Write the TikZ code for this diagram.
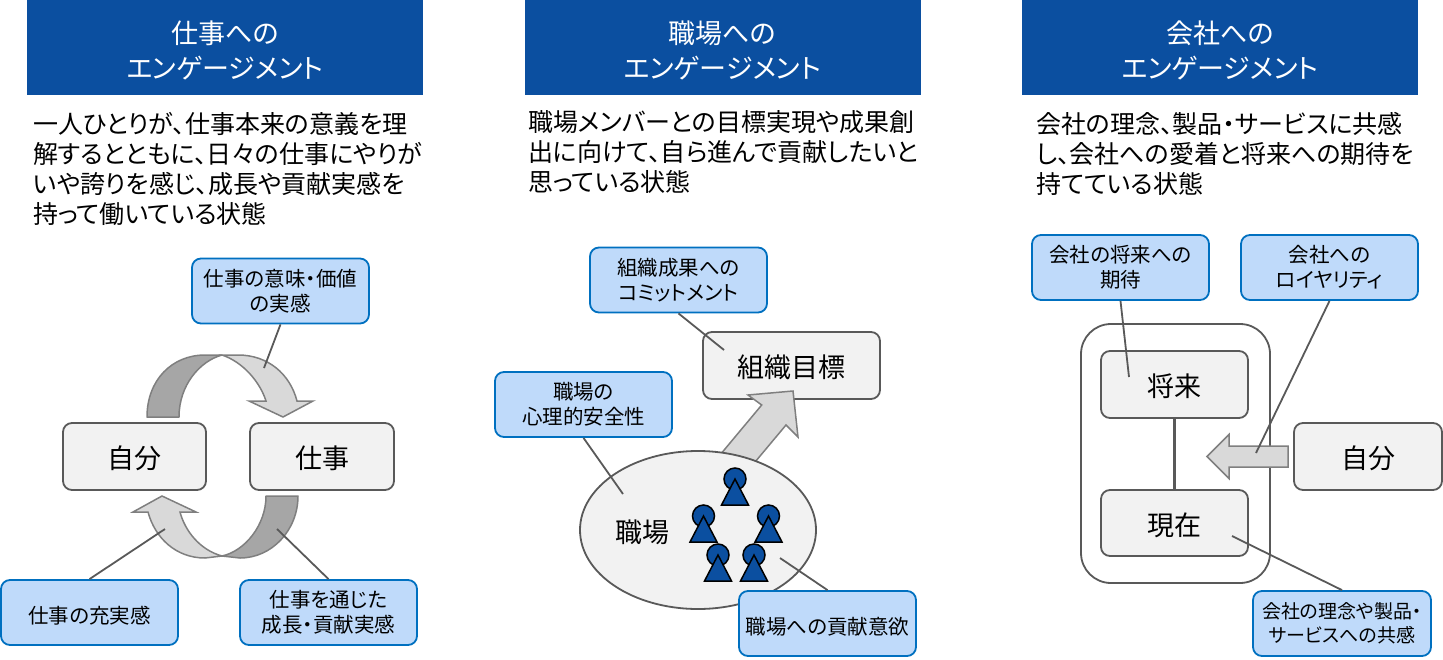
\documentclass[tikz,border=0pt]{standalone}
\usepackage{fontspec}
\usetikzlibrary{shapes.geometric}
\setmainfont{Noto Sans CJK JP}[RawFeature=+palt]
\definecolor{headblue}{HTML}{0B4FA0}
\definecolor{callfill}{HTML}{BFDAFA}
\definecolor{callline}{HTML}{0070C0}
\definecolor{boxfill}{HTML}{F2F2F2}
\definecolor{boxline}{HTML}{595959}
\definecolor{arrowdark}{HTML}{A6A6A6}
\definecolor{arrowlight}{HTML}{D9D9D9}
\definecolor{arrowline}{HTML}{7F7F7F}
\newcommand{\fs}[2]{\fontsize{#1}{#2}\selectfont}
\tikzset{
  head/.style={fill=headblue,text=white,minimum width=396pt,minimum height=95pt,inner sep=0pt,align=center,font=\fs{27}{35},text height=62pt,text depth=0pt},
  body/.style={anchor=west,inner sep=0pt,align=left,font=\fs{25}{30}},
  item/.style={draw=boxline,fill=boxfill,line width=1.8pt,rounded corners=9pt,inner sep=0pt,font=\fs{27}{30},execute at begin node={\rule{0pt}{27pt}}},
  callout/.style={draw=callline,fill=callfill,line width=1.8pt,rounded corners=9pt,minimum width=177pt,minimum height=65pt,inner sep=0pt,align=center,font=\fs{20.5}{25},execute at begin node={\rule{0pt}{24pt}}},
  lead/.style={draw=boxline,line width=1.8pt},
  darkribbon/.style={draw=arrowline,fill=arrowdark,line width=1.5pt,line join=round},
  lightribbon/.style={draw=arrowline,fill=arrowlight,line width=1.5pt,line join=miter},
}
\begin{document}
\begin{tikzpicture}[x=1pt,y=-1pt]
\useasboundingbox (0,0) rectangle (1443,659);
\node[head] (headwork) at (225,47.5) {仕事への\\エンゲージメント};
\node[head] (headplace) at (722.5,47.5) {職場への\\エンゲージメント};
\node[head] (headfirm) at (1220,47.5) {会社への\\エンゲージメント};
\node[body] (bodywork) at (33,168.5) {一人ひとりが、仕事本来の意義を理\\解するとともに、日々の仕事にやりが\\いや誇りを感じ、成長や貢献実感を\\持って働いている状態};
\node[body] (bodyplace) at (528,152) {職場メンバーとの目標実現や成果創\\出に向けて、自ら進んで貢献したいと\\思っている状態};
\node[body] (bodyfirm) at (1036,154) {会社の理念、製品・サービスに共感\\し、会社への愛着と将来への期待を\\持てている状態};

\node[item,minimum width=143pt,minimum height=67pt] (selfa) at (134.5,456.5) {自分};
\node[item,minimum width=144pt,minimum height=67pt] (work) at (322,456.5) {仕事};
\draw[darkribbon] (147,417) .. controls (147,380) and (172,355) .. (205,355) -- (222,355) .. controls (200,361) and (179,385) .. (179,417) -- cycle;
\draw[lightribbon] (222,355) -- (238,355) .. controls (268,355) and (290,374) .. (297,401) -- (313,401) -- (283,417) -- (249,401) -- (266,401) .. controls (260,382) and (243,362) .. (222,355) -- cycle;
\draw[darkribbon] (298,496) .. controls (298,530) and (272,558) .. (240,558) -- (222,556) .. controls (245,551) and (266,525) .. (266,496) -- cycle;
\draw[lightribbon] (222,556) -- (205,558) .. controls (176,558) and (155,538) .. (148,512) -- (133,512) -- (162,496) -- (196,512) -- (180,512) .. controls (185,531) and (200,550) .. (222,556) -- cycle;

\coordinate (endmean) at (264,368);
\coordinate (endfull) at (165,529);
\coordinate (endgrow) at (277,529);
\node[callout] (mean) at (280.5,291) {仕事の意味・価値\\の実感};
\node[callout] (full) at (89.5,612.5) {仕事の充実感};
\node[callout] (grow) at (328.5,612.5) {仕事を通じた\\成長・貢献実感};
\draw[lead] (mean.south) -- (endmean);
\draw[lead] (full.north) -- (endfull);
\draw[lead] (grow.north) -- (endgrow);

\node[item,minimum width=177pt,minimum height=67pt] (goal) at (791.5,365.5) {組織目標};
\draw[draw=arrowline,fill=arrowlight,line width=1.5pt] (712.7,463.7) -- (761.7,405) -- (748,395) -- (793,391) -- (798,437) -- (786,425) -- (746.7,472) -- cycle;
\node[draw=boxline,fill=boxfill,line width=1.8pt,ellipse,minimum width=236pt,minimum height=158pt,inner sep=0pt] (place) at (698,530) {};
\node[font=\fs{27}{30},inner sep=0pt] (placetext) at (642,532) {職場};
\foreach \px/\py in {735/479,703.5/516,768.5/516,718/555,754/555}{
  \draw[fill=headblue,line width=1.5pt] (\px,\py) circle (11pt);
  \draw[fill=headblue,line width=1.5pt,line join=miter] (\px,\py) -- (\px+13.5,\py+26) -- (\px-13.5,\py+26) -- cycle;
}
\coordinate (endcommit) at (724,350);
\coordinate (endsafe) at (623,494);
\coordinate (endwill) at (780,558);
\node[callout] (commit) at (678.5,280) {組織成果への\\コミットメント};
\node[callout] (safe) at (583.5,404.5) {職場の\\心理的安全性};
\node[callout] (will) at (827.5,623.5) {職場への貢献意欲};
\draw[lead] (commit.south) -- (endcommit);
\draw[lead] (safe.south) -- (endsafe);
\draw[lead] (will.north) -- (endwill);

\node[draw=boxline,fill=white,line width=1.8pt,rounded corners=30pt,minimum width=189pt,minimum height=259pt,inner sep=0pt] (frame) at (1175.5,453.5) {};
\node[item,minimum width=147pt,minimum height=67pt] (future) at (1174.5,384.5) {将来};
\node[item,minimum width=147pt,minimum height=66pt] (now) at (1174.5,523) {現在};
\node[item,minimum width=148pt,minimum height=67pt] (selfb) at (1368,456.5) {自分};
\draw[lead,line width=2.2pt] (future.south) -- (now.north);
\draw[draw=arrowline,fill=arrowlight,line width=1.5pt] (1288,446) -- (1229,446) -- (1229,434.5) -- (1207,456.5) -- (1229,478.5) -- (1229,467) -- (1288,467) -- cycle;
\coordinate (endhope) at (1129,377);
\coordinate (endloyal) at (1256,453);
\coordinate (endshare) at (1232,536);
\node[callout] (hope) at (1120.5,267.5) {会社の将来への\\期待};
\node[callout] (loyal) at (1329.5,267.5) {会社への\\ロイヤリティ};
\node[callout,minimum width=178pt,font=\fs{19}{24}] (share) at (1342,623.5) {会社の理念や製品・\\サービスへの共感};
\draw[lead] (hope.south) -- (endhope);
\draw[lead] (loyal.south) -- (endloyal);
\draw[lead] (share.north) -- (endshare);
\end{tikzpicture}
\end{document}
